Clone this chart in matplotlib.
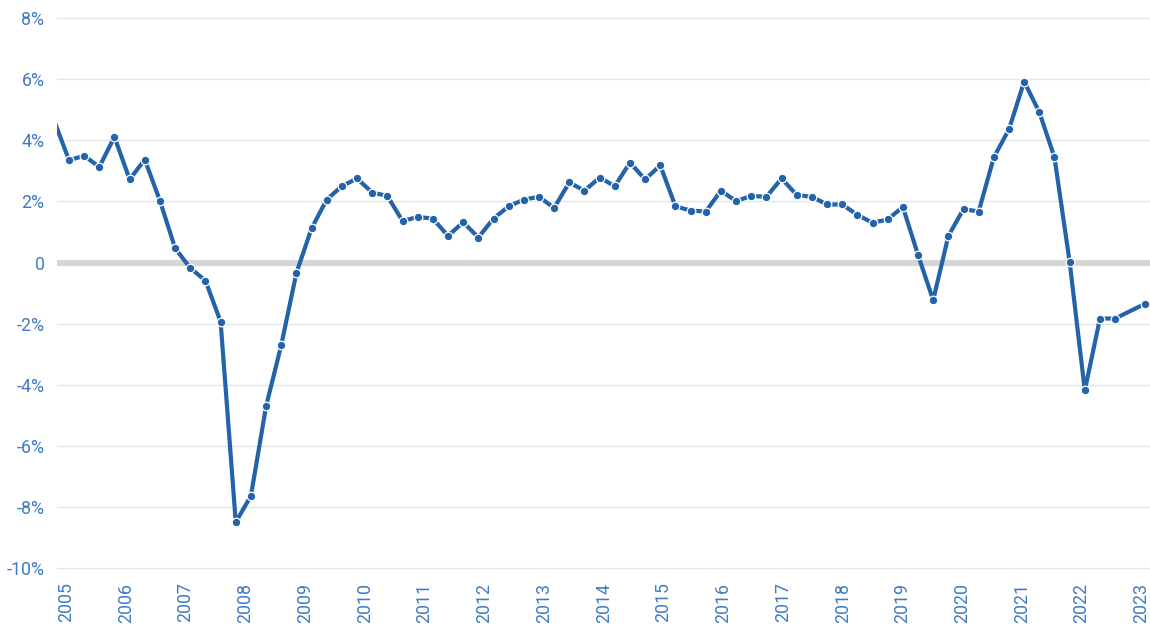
import numpy as np
import pandas as pd
import matplotlib
matplotlib.use("Agg")
import matplotlib.pyplot as plt

# quarterly growth rate, %, from Q4 2004 to Q1 2023 (one missing quarter near the end)
values = [4.67,
          3.35, 3.49, 3.13, 4.11, 2.72, 3.37, 2.02, 0.47, -0.18, -0.59,
          -1.93, -8.49, -7.63, -4.70, -2.70, -0.34, 1.12, 2.06, 2.50, 2.75,
          2.29, 2.18, 1.36, 1.49, 1.44, 0.87, 1.32, 0.82, 1.44, 1.84,
          2.06, 2.15, 1.79, 2.62, 2.35, 2.78, 2.50, 3.27, 2.72, 3.18,
          1.84, 1.70, 1.67, 2.35, 2.01, 2.18, 2.15, 2.75, 2.21, 2.15,
          1.90, 1.90, 1.56, 1.30, 1.41, 1.82, 0.25, -1.23, 0.87, 1.75,
          1.67, 3.44, 4.36, 5.92, 4.92, 3.44, 0.02, -4.18, -1.83, -1.83,
          None, -1.34]
years = [str(y) for y in range(2005, 2024)]
y_ticks = [8, 6, 4, 2, 0, -2, -4, -6, -8, -10]

df = pd.DataFrame({"q": np.arange(len(values)), "v": values}).dropna()

line_col = "#2263a9"
label_col = "#3f7cc0"

fig = plt.figure(figsize=(11.5, 6.3), dpi=100)
ax = fig.add_axes([57 / 1150, 58.6 / 630, 1 - 57 / 1150, 556.5 / 630])

ax.set_ylim(-10.1, 8.1)
ax.set_xlim(0.21, 72.3)

for t in y_ticks:
    if t == 0:
        ax.axhline(0, color="#d6d6d6", lw=4.4, zorder=1)
    else:
        ax.axhline(t, color="#e1e6e6", lw=1.0, zorder=0)

# the first quarter sits just outside the left edge: line only, no dot
ax.plot(df["q"], df["v"], color=line_col, lw=3.0, marker="o", ms=6.2,
        markevery=list(range(1, len(df))),
        mfc=line_col, mec="white", mew=0.9, zorder=3, solid_joinstyle="round")

ax.set_yticks(y_ticks)
ax.set_yticklabels(["0" if t == 0 else f"{t}%" for t in y_ticks])
ax.set_xticks(np.linspace(0.8, 71.73, len(years)))
ax.set_xticklabels(years, rotation=90, va="top", ha="center")

ax.tick_params(axis="both", length=0, colors=label_col, labelsize=12.8)
ax.tick_params(axis="y", pad=9)
ax.tick_params(axis="x", pad=8)
for lab in ax.get_xticklabels() + ax.get_yticklabels():
    lab.set_fontfamily("Roboto")

for s in ax.spines.values():
    s.set_visible(False)

fig.savefig("out.png", dpi=100)
